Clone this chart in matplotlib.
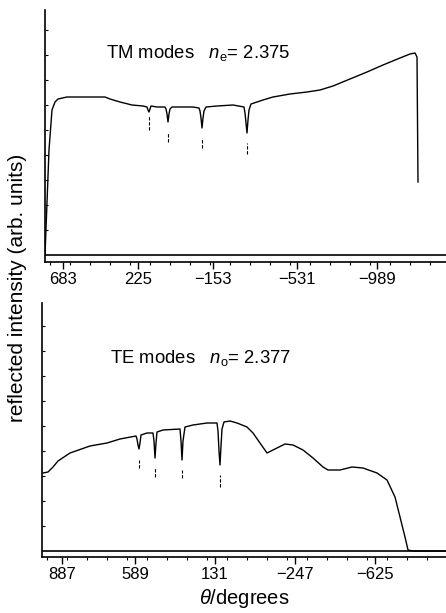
import matplotlib
matplotlib.use("Agg")
import matplotlib.pyplot as plt
import numpy as np

plt.rcParams['font.family'] = ['Liberation Sans', 'DejaVu Sans']
plt.rcParams['mathtext.fontset'] = 'custom'
plt.rcParams['mathtext.rm'] = 'Liberation Sans'
plt.rcParams['mathtext.it'] = 'Liberation Sans:italic'

# ---- TM modes (top panel) ----
tm_x = [45, 49, 52, 55, 58, 67, 105, 110, 120, 132, 143, 147, 148, 149, 150, 151, 157,
        165, 166, 167, 168, 169, 170, 172, 180, 193, 199, 200, 201, 202, 203, 204, 206,
        217, 233, 244, 245, 246, 247, 248, 249, 251, 263, 273, 290, 307, 320, 333, 350,
        367, 383, 400, 410, 415, 417, 418]
tm_y = [0, 105, 145, 153, 156, 158, 158, 156, 153, 150, 149, 148, 145, 143, 146, 149, 148,
        148, 146, 141, 133, 141, 146, 148, 148, 148, 147, 144, 137, 127, 137, 144, 148,
        149, 150, 148, 142, 132, 122, 135, 145, 151, 155, 158, 161, 163, 165, 169, 176,
        183, 190, 197, 201, 202, 198, 73]
tm_mode_x = [149, 168, 202, 247]
tm_mark_top = [140, 123, 117, 112]
tm_mark_bottom = [125, 113, 107, 101]
tm_ticks = [63, 138, 213, 297, 377]
tm_ticklabels = ['683', '225', '\u2212153', '\u2212531', '\u2212989']

# ---- TE modes (bottom panel) ----
te_x = [43, 48, 53, 58, 70, 90, 107, 120, 136, 137, 138, 139, 140, 141, 147, 153, 154,
        155, 156, 157, 163, 180, 181, 182, 183, 185, 193, 207, 217, 218, 219, 220, 221,
        222, 224, 230, 237, 247, 253, 260, 267, 273, 285, 293, 303, 313, 323, 328, 340,
        352, 363, 377, 387, 395, 400, 405, 408, 413, 446]
te_y = [78, 79, 84, 90, 98, 105, 108, 112, 115, 112, 106, 102, 108, 116, 118, 118, 110,
        93, 108, 119, 121, 122, 110, 91, 110, 124, 126, 128, 128, 120, 100, 86, 105,
        122, 129, 130, 128, 124, 118, 108, 98, 101, 107, 106, 101, 93, 84, 81, 81,
        84, 83, 78, 71, 54, 34, 14, 1, 0, 0]
te_mode_x = [139, 155, 182, 220]
te_mark_top = [91, 84, 81, 76]
te_mark_bottom = [83, 74, 73, 64]
te_ticks = [62, 135, 215, 295, 375]
te_ticklabels = ['887', '589', '131', '\u2212247', '\u2212625']

W, H = 446, 613
fig = plt.figure(figsize=(W / 100, H / 100), dpi=100)


def make_axes(left, top, bottom, baseline, x, y, mx, mt, mb, ticks, labels,
              label_text, tx, ty):
    ax = fig.add_axes([left / W, 1 - bottom / H, (W - left) / W, (bottom - top) / H])
    ax.set_xlim(left, W)
    ax.set_ylim(baseline - bottom, baseline - top)
    for s in ['top', 'right']:
        ax.spines[s].set_visible(False)
    for s in ['left', 'bottom']:
        ax.spines[s].set_linewidth(1.2)
    ax.plot(x, y, color='black', lw=1.0)
    ax.axhline(0, color='black', lw=1.2)
    ax.vlines(mx, mb, mt, colors='black', lw=0.8, linestyles=(0, (3, 1.5)))
    ax.set_xticks(ticks)
    ax.set_xticklabels(labels, fontsize=12)
    ax.set_xticks(np.arange(left + 5, W, 20), minor=True)
    ax.tick_params(axis='x', which='major', length=5, width=1, pad=2)
    ax.tick_params(axis='x', which='minor', length=2.5, width=0.8)
    ax.set_yticks(np.arange(25, baseline - top, 25))
    ax.tick_params(axis='y', which='major', length=2, width=0.8, direction='in',
                   labelleft=False)
    ax.text(tx, ty, label_text, fontsize=13.3, va='center', ha='left')
    return ax


make_axes(45, 10, 262, 255, tm_x, tm_y, tm_mode_x, tm_mark_top, tm_mark_bottom,
          tm_ticks, tm_ticklabels, 'TM modes   $n_{\\mathrm{e}}$= 2.375', 106, 202)
make_axes(42, 303, 557, 551, te_x, te_y, te_mode_x, te_mark_top, te_mark_bottom,
          te_ticks, te_ticklabels, 'TE modes   $n_{\\mathrm{o}}$= 2.377', 110, 193)

fig.text(18 / W, 1 - 288 / H, 'reflected intensity (arb. units)', rotation=90,
         fontsize=15, ha='center', va='center')
fig.text(244 / W, 1 - 598 / H, '$\\theta$/degrees', fontsize=14.5, ha='center', va='center')

fig.savefig('out.png', dpi=100)
